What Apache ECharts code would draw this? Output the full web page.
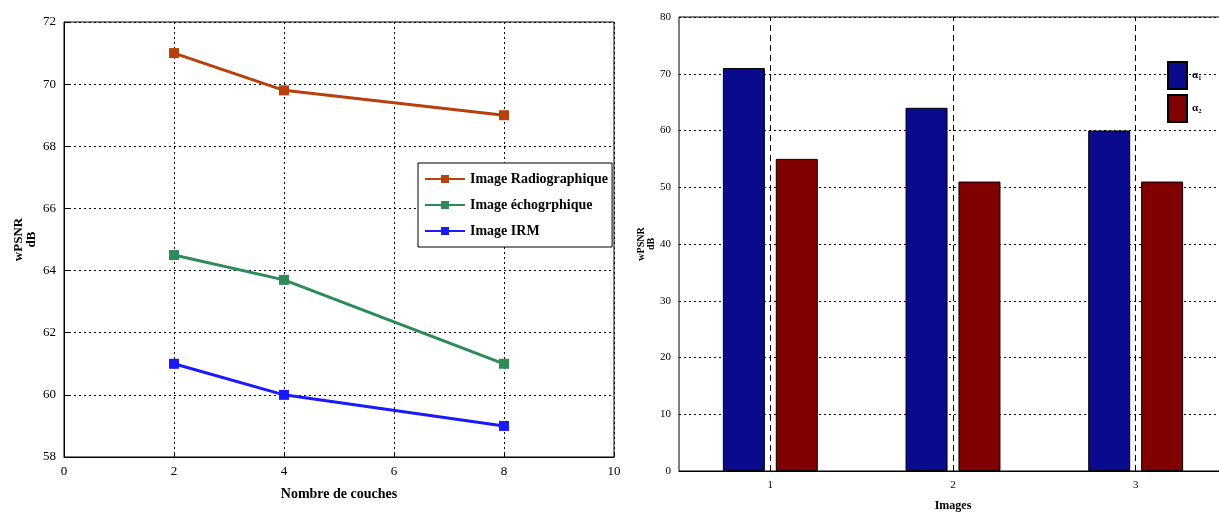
<!DOCTYPE html>
<html><head><meta charset="utf-8">
<script src="https://cdn.jsdelivr.net/npm/echarts@6/dist/echarts.min.js"></script>
<style>html,body{margin:0;padding:0;background:#fff}#c{width:1219px;height:512px}</style>
</head><body><div id="c"></div>
<script>
const layers = [2, 4, 8];
const radiographique = [71, 69.8, 69];
const echographique = [64.5, 63.7, 61];
const irm = [61, 60, 59];
const images = ['1', '2', '3'];
const alpha1 = [71, 64, 60];
const alpha2 = [55, 51, 51];

const F = 'Liberation Serif';
const pair = (xs, ys) => xs.map((x, i) => [x, ys[i]]);
const dotted = {show: true, lineStyle: {color: '#000', type: [2, 3], width: 1}};
const lineSeries = (name, data, color) => ({
  name, type: 'line', xAxisIndex: 0, yAxisIndex: 0, data: pair(layers, data),
  symbol: 'rect', symbolSize: 10, lineStyle: {color, width: 3}, itemStyle: {color},
  animation: false
});

const chart = echarts.init(document.getElementById('c'));
chart.setOption({
  animation: false,
  textStyle: {fontFamily: F},
  grid: [
    {left: 64, width: 550, top: 22, height: 435, show: true, borderColor: '#000', borderWidth: 1, outerBoundsMode: 'none', containLabel: false},
    {left: 679, width: 548, top: 17, height: 454, show: true, borderColor: '#000', borderWidth: 1, outerBoundsMode: 'none', containLabel: false}
  ],
  legend: [
    {data: ['Image Radiographique', 'Image échogrphique', 'Image IRM'],
     orient: 'vertical', left: 418, top: 163, width: 192,
     backgroundColor: '#fff', borderColor: '#000', borderWidth: 1, padding: [9, 4, 9, 6],
     itemWidth: 40, itemHeight: 10, itemGap: 12,
     textStyle: {fontFamily: F, fontWeight: 'bold', fontSize: 14, color: '#000'}},
    {data: ['α₁', 'α₂'], orient: 'vertical', left: 1167, top: 61, padding: 0,
     icon: 'rect', itemWidth: 19, itemHeight: 27, itemGap: 4,
     textStyle: {fontFamily: F, fontWeight: 'bold', fontSize: 11, color: '#000'}}
  ],
  xAxis: [
    {gridIndex: 0, type: 'value', min: 0, max: 10, interval: 2,
     name: 'Nombre de couches', nameLocation: 'middle', nameGap: 30,
     nameTextStyle: {fontFamily: F, fontWeight: 'bold', fontSize: 14, color: '#000'},
     axisLine: {lineStyle: {color: '#000'}}, axisTick: {inside: true, length: 5, lineStyle: {color: '#000'}},
     axisLabel: {color: '#000', fontSize: 13, fontFamily: F, margin: 8},
     splitLine: dotted},
    {gridIndex: 1, type: 'category', data: images,
     name: 'Images', nameLocation: 'middle', nameGap: 29,
     nameTextStyle: {fontFamily: F, fontWeight: 'bold', fontSize: 12, color: '#000'},
     axisLine: {lineStyle: {color: '#000'}}, axisTick: {show: false},
     axisLabel: {color: '#000', fontSize: 11, fontFamily: F, margin: 9},
     splitLine: {show: false}}
  ],
  yAxis: [
    {gridIndex: 0, type: 'value', min: 58, max: 72, interval: 2,
     name: 'wPSNR\ndB', nameLocation: 'middle', nameGap: 26, nameRotate: 90,
     nameTextStyle: {fontFamily: F, fontWeight: 'bold', fontSize: 13, color: '#000', lineHeight: 13},
     axisLine: {lineStyle: {color: '#000'}}, axisTick: {inside: true, length: 5, lineStyle: {color: '#000'}},
     axisLabel: {color: '#000', fontSize: 13, fontFamily: F, margin: 8},
     splitLine: dotted},
    {gridIndex: 1, type: 'value', min: 0, max: 80, interval: 10,
     name: 'wPSNR\ndB', nameLocation: 'middle', nameGap: 22, nameRotate: 90,
     nameTextStyle: {fontFamily: F, fontWeight: 'bold', fontSize: 10, color: '#000', lineHeight: 10},
     axisLine: {lineStyle: {color: '#000'}}, axisTick: {show: false},
     axisLabel: {color: '#000', fontSize: 11, fontFamily: F, margin: 8},
     splitLine: dotted}
  ],
  series: [
    lineSeries('Image Radiographique', radiographique, '#b8400c'),
    lineSeries('Image échogrphique', echographique, '#2e8b57'),
    lineSeries('Image IRM', irm, '#1a1aff'),
    {name: 'α₁', type: 'bar', xAxisIndex: 1, yAxisIndex: 1, data: alpha1,
     barWidth: 42, barGap: '26%', itemStyle: {color: '#0a0a8c', borderColor: '#000', borderWidth: 1}},
    {name: 'α₂', type: 'bar', xAxisIndex: 1, yAxisIndex: 1, data: alpha2,
     barWidth: 42, itemStyle: {color: '#800000', borderColor: '#000', borderWidth: 1}},
    {name: 'vgrid', type: 'line', xAxisIndex: 1, yAxisIndex: 1, data: [], z: 5,
     markLine: {symbol: 'none', silent: true, label: {show: false},
       lineStyle: {color: '#000', type: [6, 4], width: 1},
       data: images.map(c => ({xAxis: c}))}}
  ]
});
</script></body></html>
